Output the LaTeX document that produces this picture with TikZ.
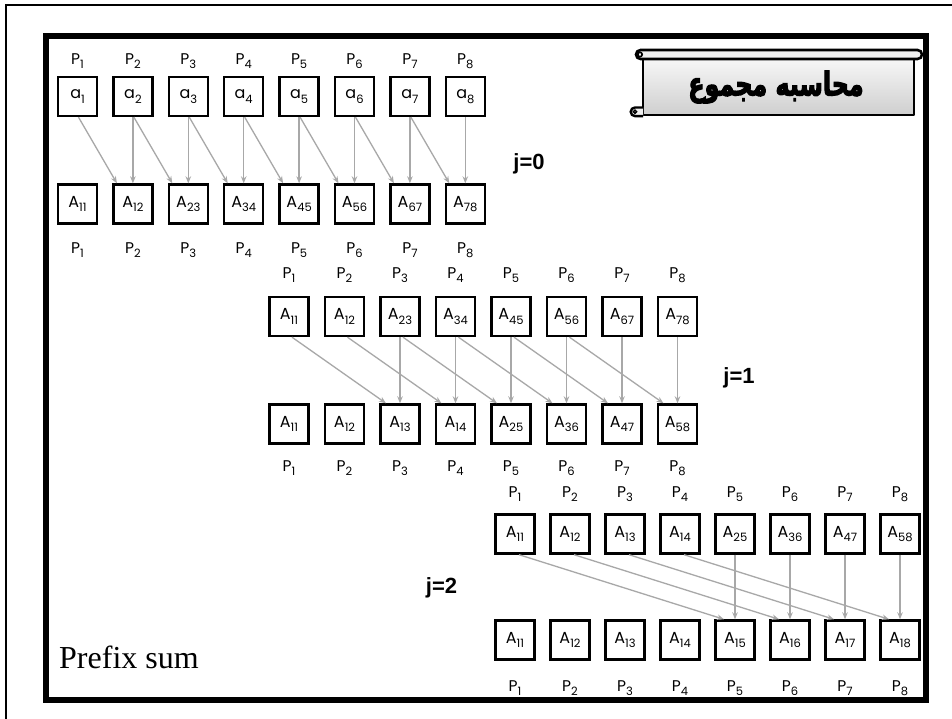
\documentclass[tikz,border=0pt]{standalone}
\usepackage{fontspec}
\setmainfont{Liberation Serif}
\newfontfamily\boxfont{Poppins}
\newfontfamily\jfont{Liberation Sans}
\newfontfamily\arabicfont[Script=Arabic, FakeBold=4]{DejaVu Sans}
\TeXXeTstate=1
\usetikzlibrary{arrows.meta,calc}
\definecolor{arrowgray}{HTML}{A8A8A8}
\newcommand\lbl[2]{#1\raisebox{-0.28em}{\fontsize{11.5}{11.5}\selectfont #2}}
\newcommand\cellrow[5]{%
  \foreach \L/\S [count=\i] in {#5} {\node[cell] (#1\i) at ({#2+(\i-1)*#3},#4) {\lbl{\L}{\S}};}}
\newcommand\prow[4]{%
  \foreach \i in {1,...,8} {\node[plabel] (#1\i) at ({#2+(\i-1)*#3},#4) {\lbl{P}{\i}};}}
\begin{document}
\begin{tikzpicture}[x=1pt,y=-1pt,
  cell/.style={draw, line width=2.4pt, minimum width=39pt, minimum height=39pt, inner sep=0pt,
     font=\boxfont\fontsize{16}{16}\selectfont},
  plabel/.style={inner sep=0pt, font=\boxfont\fontsize{15.5}{15.5}\selectfont},
  arr/.style={draw=arrowgray, line width=1.3pt, -{Stealth[length=7pt,width=5.5pt]}},
  jlabel/.style={inner sep=0pt, font=\jfont\bfseries\fontsize{22}{22}\selectfont}]
\useasboundingbox (0,0) rectangle (952,719);
\fill[white] (0,0) rectangle (952,719);
% outer frames
\draw[line width=1.5pt] (6,719) -- (6,5) -- (952,5);
\draw[line width=6pt] (46,36) rectangle (926,700);

% ---- section j=0
\prow{pa}{77.5}{55.4}{61}
\cellrow{s1t}{77.5}{55.4}{96.5}{a/1,a/2,a/3,a/4,a/5,a/6,a/7,a/8}
\cellrow{s1b}{77.5}{55.4}{204}{A/11,A/12,A/23,A/34,A/45,A/56,A/67,A/78}
\prow{pb}{77.5}{55.4}{250}
\foreach \i in {2,...,8} {\draw[arr] (s1t\i.south) -- (s1b\i.north);}
\foreach \i in {1,...,7} {\pgfmathtruncatemacro\k{\i+1}
  \draw[arr] ($(s1t\i.south)+(1,0)$) -- ($(s1b\k.north)+(-16,0)$);}
\node[jlabel] (j0) at (529,164) {j=0};

% ---- section j=1
\prow{pc}{289}{55.5}{275}
\cellrow{s2t}{289}{55.5}{316.5}{A/11,A/12,A/23,A/34,A/45,A/56,A/67,A/78}
\cellrow{s2b}{289}{55.5}{424}{A/11,A/12,A/13,A/14,A/25,A/36,A/47,A/58}
\prow{pd}{289}{55.5}{468}
\foreach \i in {3,...,8} {\draw[arr] (s2t\i.south) -- (s2b\i.north);}
\foreach \i in {1,...,6} {\pgfmathtruncatemacro\k{\i+2}
  \draw[arr] ($(s2t\i.south)+(3,0)$) -- ($(s2b\k.north)+(-14,0)$);}
\node[jlabel] (j1) at (739,378) {j=1};

% ---- section j=2
\prow{pe}{515}{55}{494}
\cellrow{s3t}{515}{55}{534}{A/11,A/12,A/13,A/14,A/25,A/36,A/47,A/58}
\cellrow{s3b}{515}{55}{640}{A/11,A/12,A/13,A/14,A/15,A/16,A/17,A/18}
\prow{pf}{515}{55}{688}
\foreach \i in {5,...,8} {\draw[arr] (s3t\i.south) -- (s3b\i.north);}
\foreach \i in {1,...,4} {\pgfmathtruncatemacro\k{\i+4}
  \draw[arr] ($(s3t\i.south)+(4,0)$) -- ($(s3b\k.north)+(-11,0)$);}
\node[jlabel] (j2) at (441.5,588) {j=2};

% ---- Prefix sum
\node[anchor=base west, inner sep=0pt, font=\fontsize{32}{32}\selectfont] (ps) at (59,668) {Prefix sum};

% ---- title scroll
\shade[top color=gray!6, bottom color=gray!38] (643,58) rectangle (914,115);
\draw[line width=2.6pt, line join=round] (643,56) -- (643,115) -- (914,115) -- (914,56);
\filldraw[fill=gray!12, line width=2.6pt, rounded corners=4.5pt] (636,50) rectangle (922,59);
\draw[line width=1.6pt] (640,54.5) circle[radius=2.2];
\filldraw[fill=gray!12, line width=2.4pt] (643,107.5) -- (635,107.5) arc[start angle=270, end angle=90, radius=4.3] -- (643,116.1);
\draw[line width=1.4pt] (635,111.8) circle[radius=1.6];
\node[inner sep=0pt] (title) at (776,87) {\scalebox{0.95}[1.3]{\arabicfont\bfseries\fontsize{25}{25}\selectfont\beginR محاسبه مجموع\endR}};
\end{tikzpicture}
\end{document}
